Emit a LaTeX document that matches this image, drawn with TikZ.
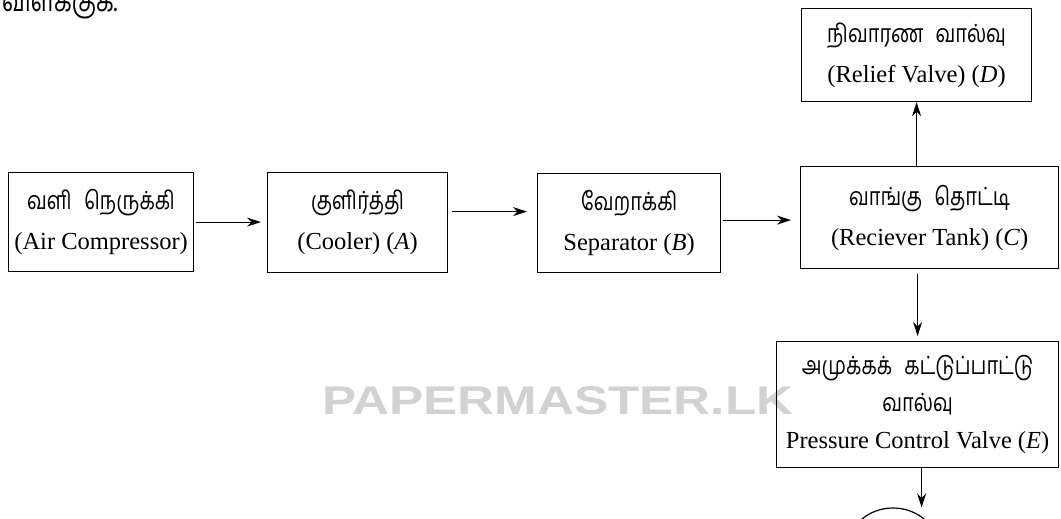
\documentclass[tikz,border=0pt]{standalone}
\usepackage{fontspec}
\setmainfont{Liberation Serif}
\newfontfamily\tamfont[Script=Tamil]{Hind Madurai}
\newcommand{\tm}[1]{\scalebox{1}[1.25]{\tamfont\fontsize{20}{40}\selectfont #1}}
\newfontfamily\wmfont{Liberation Sans}
\usetikzlibrary{arrows.meta,shapes.geometric}
\begin{document}
\begin{tikzpicture}[x=1pt,y=-1pt,
  box/.style={draw, line width=1.2pt, align=center, inner sep=0pt, anchor=north west,
    font=\fontsize{24.5}{40}\selectfont},
  arr/.style={-{Stealth[length=14pt,width=9pt]}, line width=1.1pt}]
\useasboundingbox (0,0) rectangle (1061,519);
% cropped heading and watermark
\node[anchor=base west, inner sep=0pt] (head) at (2,12) {\scalebox{1}[1.3]{\tamfont\fontsize{23}{30}\selectfont விளக்குக.}};
\node[anchor=north west, inner sep=0pt, text=gray!35] (wm) at (322,386)
  {\resizebox{471pt}{28pt}{\wmfont\bfseries PAPERMASTER.LK}};
% boxes
\node[box, minimum width=185pt, minimum height=99pt] (comp) at (8,172)
  {\tm{வளி\hspace{0.6em}நெருக்கி}\\(Air Compressor)};
\node[box, minimum width=180pt, minimum height=100pt] (cool) at (267,172)
  {\tm{குளிர்த்தி}\\(Cooler) (\textit{A})};
\node[box, minimum width=183pt, minimum height=99pt] (sep) at (537,173)
  {\tm{வேறாக்கி}\\Separator (\textit{B})};
\node[box, minimum width=258pt, minimum height=102pt] (tank) at (800,166)
  {\tm{வாங்கு\hspace{0.6em}தொட்டி}\\(Reciever Tank) (\textit{C})};
\node[box, minimum width=230pt, minimum height=93pt] (relief) at (801,8)
  {\tm{நிவாரண\hspace{0.6em}வால்வு}\\(Relief Valve) (\textit{D})};
\node[box, minimum width=282pt, minimum height=126pt, font=\fontsize{24.5}{37}\selectfont] (pcv) at (776,341)
  {\tm{அமுக்கக்\hspace{0.6em}கட்டுப்பாட்டு}\\\tm{வால்வு}\\Pressure Control Valve (\textit{E})};
\node[draw, ellipse, line width=1.2pt, minimum width=90pt, minimum height=80pt, inner sep=0pt] (out) at (893,548) {};
% connectors
\draw[arr, shorten <=2pt, shorten >=6pt] (comp.east) -- (comp.east -| cool.west);
\draw[arr, shorten <=4pt, shorten >=10pt] ([yshift=11pt]cool.east) -- ([yshift=11pt]cool.east -| sep.west);
\draw[arr, shorten <=2pt, shorten >=9pt] ([yshift=3pt]sep.east) -- ([yshift=3pt]sep.east -| tank.west);
\draw[arr] (relief.south |- tank.north) -- (relief.south);
\draw[arr, shorten <=5pt, shorten >=5pt] (pcv.north |- tank.south) -- (pcv.north);
\draw[arr] ([xshift=4pt]pcv.south) -- ([xshift=4pt]pcv.south |- out.north);
\end{tikzpicture}
\end{document}
